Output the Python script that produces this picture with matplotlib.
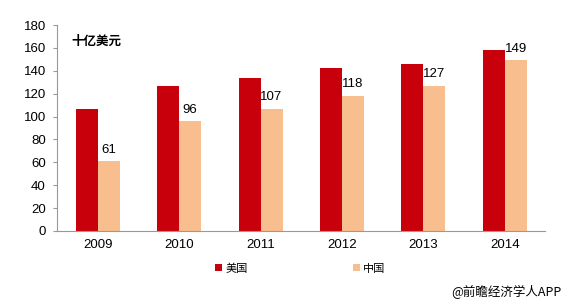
import matplotlib.pyplot as plt
import numpy as np

plt.rcParams['font.family'] = ['Liberation Sans', 'Noto Sans CJK SC', 'DejaVu Sans']

years = ['2009', '2010', '2011', '2012', '2013', '2014']
us_values = [107, 127, 134, 142, 146, 158]
cn_values = [61, 96, 107, 118, 127, 149]

red = '#C8000B'
peach = '#F9BE8E'

fig = plt.figure(figsize=(5.7, 3.05), dpi=100)
ax = fig.add_axes([0.1, 0.243, 0.857, 0.675])

x = np.arange(len(years))
w = 0.27
ax.bar(x - w / 2, us_values, w, color=red, label='美国')
bars_cn = ax.bar(x + w / 2, cn_values, w, color=peach, label='中国')

for b, v in zip(bars_cn, cn_values):
    ax.annotate(str(v), (b.get_x() + b.get_width() / 2, v), xytext=(0, 4),
                textcoords='offset points', ha='center', va='bottom', fontsize=9.5)

ax.set_ylim(0, 180)
ax.set_yticks(range(0, 181, 20))
ax.set_xlim(-0.5, len(years) - 0.5)
ax.set_xticks(x)
ax.set_xticklabels(years)
ax.tick_params(axis='both', labelsize=9.5)
ax.tick_params(axis='x', length=0, pad=6)
ax.tick_params(axis='y', length=3, color='#999999', pad=5)

for s in ['top', 'right']:
    ax.spines[s].set_visible(False)
for s in ['left', 'bottom']:
    ax.spines[s].set_color('#999999')
    ax.spines[s].set_linewidth(0.8)

ax.text(0.03, 0.95, '十亿美元', transform=ax.transAxes, fontsize=9,
        fontweight='bold', family=['Noto Sans CJK SC'], va='top')

fig.legend(loc='lower center', bbox_to_anchor=(0.527, 0.07), ncol=2, frameon=False,
           handlelength=0.6, handleheight=0.6, columnspacing=9.5,
           handletextpad=0.3, prop={'family': ['Noto Sans CJK SC'], 'size': 8})

fig.text(0.985, 0.02, '@前瞻经济学人APP', ha='right', va='bottom', fontsize=9,
         family=['Noto Sans CJK SC', 'DejaVu Sans'])

fig.savefig('out.png', dpi=100)
